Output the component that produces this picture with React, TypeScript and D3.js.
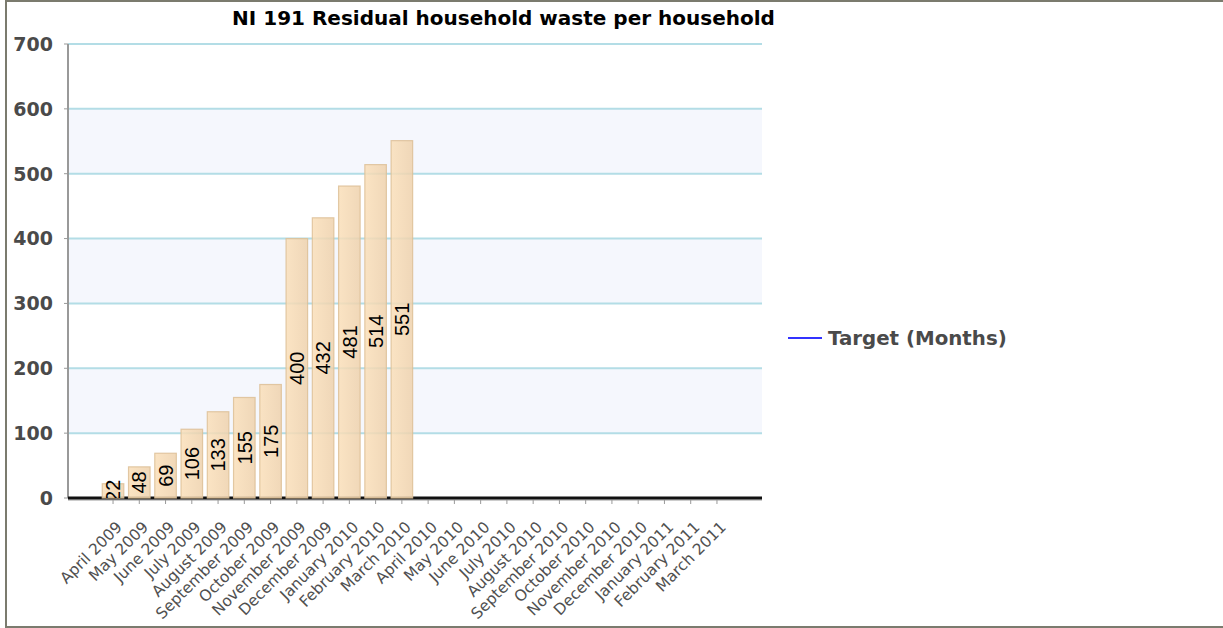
import React from 'react';
import * as d3 from 'd3';

const months = [
  'April 2009', 'May 2009', 'June 2009', 'July 2009', 'August 2009', 'September 2009',
  'October 2009', 'November 2009', 'December 2009', 'January 2010', 'February 2010', 'March 2010',
  'April 2010', 'May 2010', 'June 2010', 'July 2010', 'August 2010', 'September 2010',
  'October 2010', 'November 2010', 'December 2010', 'January 2011', 'February 2011', 'March 2011',
];
const values = [22, 48, 69, 106, 133, 155, 175, 400, 432, 481, 514, 551];
const yTicks = [0, 100, 200, 300, 400, 500, 600, 700];
const title = 'NI 191 Residual household waste per household';
const legendLabel = 'Target (Months)';

const W = 1223;
const H = 628;
const left = 68;
const right = 762;
const top = 44;
const bottom = 498;

export default function App() {
  const x = d3.scalePoint<string>().domain(months).range([left, right]).padding(1.715);
  const y = d3.scaleLinear().domain([0, 700]).range([bottom, top]);
  const bw = x.step() * 0.82;
  const bands = yTicks.filter((t, i) => i % 2 === 1 && i < yTicks.length - 1);

  return (
    <svg width={W} height={H} style={{ position: 'absolute', left: 0, top: 0, background: '#fff' }}>
      <defs>
        <linearGradient id="barGrad" x1="0" x2="1" y1="0" y2="0">
          <stop offset="0" stopColor="#fadfb9" />
          <stop offset="1" stopColor="#eed1ac" />
        </linearGradient>
        <clipPath id="plotClip">
          <rect x={left} y={top} width={right - left} height={bottom - top} />
        </clipPath>
      </defs>
      <rect x={0} y={0} width={W} height={H} fill="#fff" />
      {/* frame */}
      <rect x={5} y={0} width={W - 5} height={2} fill="#7b7b6e" />
      <rect x={5} y={0} width={2} height={H} fill="#7b7b6e" />
      <rect x={5} y={H - 2} width={W - 5} height={2} fill="#7b7b6e" />

      {/* title */}
      <text x={503.5} y={25} textAnchor="middle" fontFamily="DejaVu Sans" fontWeight="bold" fontSize={20} fill="#000">
        {title}
      </text>

      {/* bands */}
      {bands.map((t) => (
        <rect key={'b' + t} x={left} y={y(t + 100)} width={right - left} height={y(t) - y(t + 100)} fill="#f5f7fd" />
      ))}
      {/* gridlines */}
      {yTicks.filter((t) => t > 0).map((t) => (
        <line key={'g' + t} x1={left} x2={right} y1={y(t)} y2={y(t)} stroke="#b3dde6" strokeWidth={2} />
      ))}

      {/* y axis */}
      <line x1={left} x2={left} y1={top} y2={bottom} stroke="#999" strokeWidth={2} />
      {yTicks.map((t) => (
        <g key={'yt' + t}>
          <line x1={left - 4} x2={left} y1={y(t)} y2={y(t)} stroke="#999" strokeWidth={1} />
          <text x={53} y={y(t)} dy="0.36em" textAnchor="end" fontFamily="DejaVu Sans" fontWeight="bold" fontSize={19} fill="#4a4a4a">
            {t}
          </text>
        </g>
      ))}

      {/* x axis line */}
      <line x1={left} x2={right} y1={bottom + 2} y2={bottom + 2} stroke="#bbb" strokeWidth={1.5} />
      <line x1={left} x2={right} y1={bottom} y2={bottom} stroke="#111" strokeWidth={3} />
      {months.map((m) => (
        <line key={'xt' + m} x1={x(m)!} x2={x(m)!} y1={bottom + 2} y2={bottom + 6} stroke="#999" strokeWidth={1} />
      ))}

      {/* bars */}
      {values.map((v, i) => {
        const cx = x(months[i])!;
        return (
          <rect
            key={'bar' + i}
            x={cx - bw / 2}
            y={y(v)}
            width={bw}
            height={y(0) - y(v)}
            fill="url(#barGrad)"
            fillOpacity={0.85}
            stroke="#ddbf96"
            strokeOpacity={0.85}
            strokeWidth={1.2}
          />
        );
      })}

      {/* value labels */}
      <g clipPath="url(#plotClip)">
        {values.map((v, i) => {
          const cx = x(months[i])!;
          const cy = (y(v) + y(0)) / 2;
          return (
            <text
              key={'vl' + i}
              transform={`translate(${cx},${cy}) rotate(-90)`}
              textAnchor="middle"
              dy="0.36em"
              fontFamily="Liberation Sans"
              fontSize={20}
              fill="#000"
            >
              {v}
            </text>
          );
        })}
      </g>

      {/* x labels */}
      {months.map((m) => (
        <text
          key={'xl' + m}
          transform={`translate(${x(m)! + 10},${528}) rotate(-45)`}
          textAnchor="end"
          fontFamily="DejaVu Sans"
          fontSize={15.5}
          fill="#505050"
        >
          {m}
        </text>
      ))}

      {/* legend */}
      <line x1={788} x2={822} y1={338} y2={338} stroke="#3333ff" strokeWidth={2} />
      <text x={828} y={338} dy="0.36em" fontFamily="DejaVu Sans" fontWeight="bold" fontSize={19.8} fill="#4a4a4a">
        {legendLabel}
      </text>
    </svg>
  );
}
